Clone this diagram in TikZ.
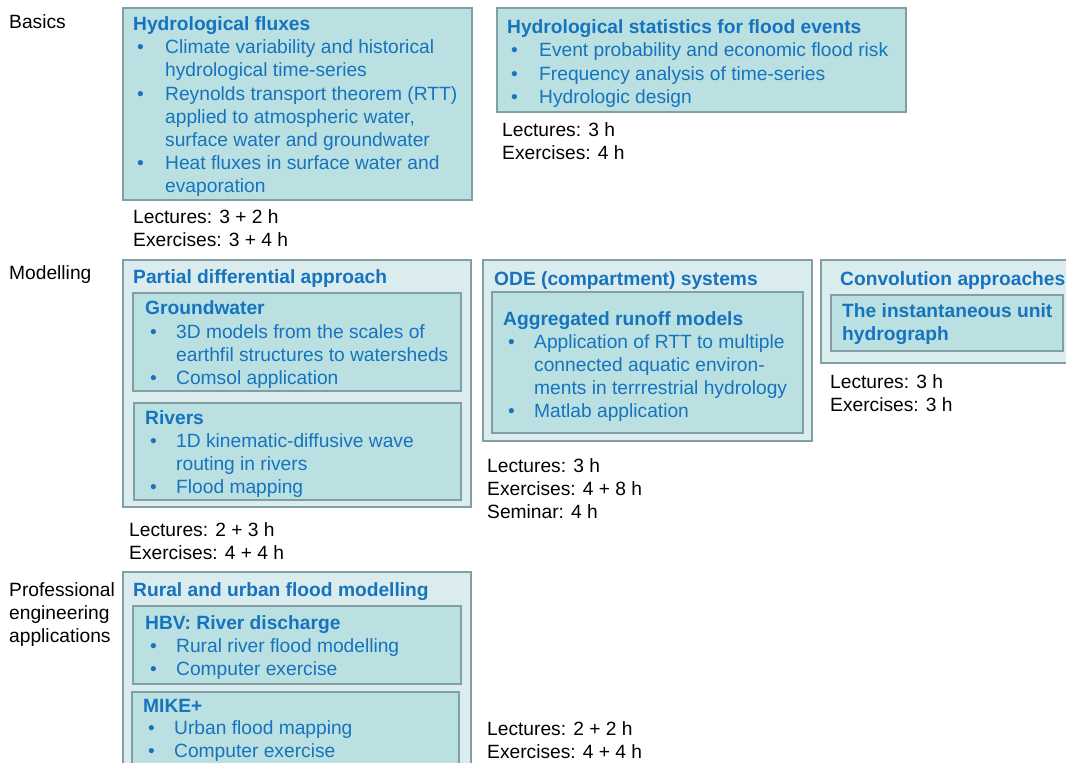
\documentclass[tikz,border=0pt]{standalone}
\usepackage{fontspec}
\setmainfont{Liberation Sans}
\definecolor{bordc}{RGB}{130,160,163}
\definecolor{innerc}{RGB}{186,224,225}
\definecolor{outerc}{RGB}{218,236,238}
\definecolor{txtc}{RGB}{22,115,190}
\tikzset{
  outerbox/.style={draw=bordc, line width=2.7pt, fill=outerc},
  innerbox/.style={draw=bordc, line width=2.7pt, fill=innerc},
  txt/.style={anchor=base west, inner sep=0pt, text=txtc, font=\fontsize{19.2}{23}\selectfont},
  hd/.style={txt, font=\fontsize{19.2}{23}\selectfont\bfseries},
  blk/.style={txt, text=black},
}
\newcommand{\myT}[4]{\node[txt] (#1) at (#2,#3+6.7) {#4};}
\newcommand{\myH}[4]{\node[hd] (#1) at (#2,#3+6.7) {#4};}
\newcommand{\myK}[4]{\node[blk] (#1) at (#2,#3+6.7) {#4};}
\newcommand{\myB}[3]{\node[txt] (#1) at (#2,#3+6.7) {•};}
\begin{document}
\begin{tikzpicture}[x=1pt,y=-1pt]
\useasboundingbox (0,0) rectangle (1066,763);
\clip (0,0) rectangle (1066,763);
% left labels
\myK{lb}{9}{22}{Basics}
\myK{lm}{9}{273}{Modelling}
\myK{lp1}{9}{590}{Professional}
\myK{lp2}{9}{613}{engineering}
\myK{lp3}{9}{636}{applications}
% box 1
\path[innerbox] (123,8) rectangle (472,200);
\myH{b1t}{133}{24}{Hydrological fluxes}
\myB{b1b1}{137}{47} \myT{b1l1}{165}{47}{Climate variability and historical}
\myT{b1l2}{165}{70}{hydrological time-series}
\myB{b1b2}{137}{94} \myT{b1l3}{165}{94}{Reynolds transport theorem (RTT)}
\myT{b1l4}{165}{117}{applied to atmospheric water,}
\myT{b1l5}{165}{140}{surface water and groundwater}
\myB{b1b3}{137}{163} \myT{b1l6}{165}{163}{Heat fluxes in surface water and}
\myT{b1l7}{165}{186}{evaporation}
\myK{b1k1}{133}{217}{Lectures: 3 + 2 h}
\myK{b1k2}{133}{240}{Exercises: 3 + 4 h}
% box 2
\path[innerbox] (497,8) rectangle (906,112);
\myH{b2t}{507}{27}{Hydrological statistics for flood events}
\myB{b2b1}{511}{50} \myT{b2l1}{539}{50}{Event probability and economic flood risk}
\myB{b2b2}{511}{74} \myT{b2l2}{539}{74}{Frequency analysis of time-series}
\myB{b2b3}{511}{97} \myT{b2l3}{539}{97}{Hydrologic design}
\myK{b2k1}{502}{130}{Lectures: 3 h}
\myK{b2k2}{502}{153}{Exercises: 4 h}
% box 3
\path[outerbox] (123,260) rectangle (471,507);
\path[innerbox] (133,293) rectangle (461,391);
\path[innerbox] (134,403) rectangle (461,500);
\myH{b3t}{133}{277}{Partial differential approach}
\myH{gwt}{145}{308}{Groundwater}
\myB{gwb1}{150}{332} \myT{gwl1}{176}{332}{3D models from the scales of}
\myT{gwl2}{176}{355}{earthfil structures to watersheds}
\myB{gwb2}{150}{378} \myT{gwl3}{176}{378}{Comsol application}
\myH{rvt}{145}{418}{Rivers}
\myB{rvb1}{150}{441} \myT{rvl1}{176}{441}{1D kinematic-diffusive wave}
\myT{rvl2}{176}{464}{routing in rivers}
\myB{rvb2}{150}{487} \myT{rvl3}{176}{487}{Flood mapping}
\myK{b3k1}{129}{530}{Lectures: 2 + 3 h}
\myK{b3k2}{129}{553}{Exercises: 4 + 4 h}
% box 4
\path[outerbox] (483,260) rectangle (812,441);
\path[innerbox] (492,292) rectangle (803,433);
\myH{b4t}{494}{279}{ODE (compartment) systems}
\myH{agt}{503}{319}{Aggregated runoff models}
\myB{agb1}{508}{342} \myT{agl1}{534}{342}{Application of RTT to multiple}
\myT{agl2}{534}{365}{connected aquatic environ-}
\myT{agl3}{534}{388}{ments in terrrestrial hydrology}
\myB{agb2}{508}{411} \myT{agl4}{534}{411}{Matlab application}
\myK{b4k1}{487}{466}{Lectures: 3 h}
\myK{b4k2}{487}{489}{Exercises: 4 + 8 h}
\myK{b4k3}{487}{512}{Seminar: 4 h}
% box 5
\path[outerbox] (821,260) rectangle (1085,363);
\path[innerbox] (831,295) rectangle (1063,351);
\myH{b5t}{840}{279}{Convolution approaches}
\myH{iu1}{842}{311}{The instantaneous unit}
\myH{iu2}{842}{334}{hydrograph}
\myK{b5k1}{830}{382}{Lectures: 3 h}
\myK{b5k2}{830}{405}{Exercises: 3 h}
% box 6
\path[outerbox] (123,572) rectangle (471,790);
\path[innerbox] (133,606) rectangle (461,684);
\path[innerbox] (132,692) rectangle (459,790);
\myH{b6t}{133}{590}{Rural and urban flood modelling}
\myH{hbt}{145}{623}{HBV: River discharge}
\myB{hbb1}{150}{646} \myT{hbl1}{176}{646}{Rural river flood modelling}
\myB{hbb2}{150}{669} \myT{hbl2}{176}{669}{Computer exercise}
\myH{mkt}{143}{706}{MIKE+}
\myB{mkb1}{148}{728} \myT{mkl1}{174}{728}{Urban flood mapping}
\myB{mkb2}{148}{751} \myT{mkl2}{174}{751}{Computer exercise}
\myK{b6k1}{487}{729}{Lectures: 2 + 2 h}
\myK{b6k2}{487}{752}{Exercises: 4 + 4 h}
\end{tikzpicture}
\end{document}
